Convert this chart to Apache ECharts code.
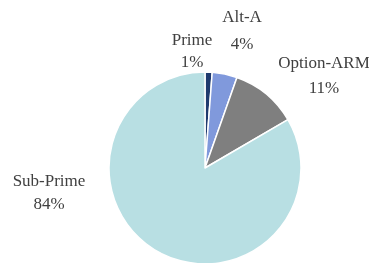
<!DOCTYPE html>
<html>
<head>
<meta charset="utf-8">
<script src="https://cdn.jsdelivr.net/npm/echarts@6/dist/echarts.min.js"></script>
<style>
  html, body { margin: 0; padding: 0; background: #fff; }
  #chart { width: 369px; height: 263px; }
</style>
</head>
<body>
<div id="chart"></div>
<script>
// loan categories, clockwise from 12 o'clock
const categories = ['Prime', 'Alt-A', 'Option-ARM', 'Sub-Prime'];
const shares = [1.2, 4.2, 11.2, 83.4];
const shareLabels = ['1%', '4%', '11%', '84%'];
const colors = ['#1f3a6e', '#8099dc', '#7f7f7f', '#b8dfe3'];

const chart = echarts.init(document.getElementById('chart'));

// where each two-line label sits (centre of the text block) and its line gap
const labelSpots = [[192, 52], [242, 31], [324, 76], [49, 193]];
const labelGaps = [22, 27, 25, 23];

chart.setOption({
  animation: false,
  series: [
    {
      type: 'pie',
      center: [205, 168],
      radius: 96,
      startAngle: 90,
      clockwise: true,
      itemStyle: { borderColor: '#fff', borderWidth: 1.5 },
      label: {
        show: true,
        position: 'outside',
        overflow: 'none',
        fontFamily: 'Liberation Serif',
        fontSize: 17,
        color: '#404040',
        formatter: p => p.name + '\n' + shareLabels[p.dataIndex]
      },
      labelLine: { show: false },
      labelLayout: p => ({
        x: labelSpots[p.dataIndex][0],
        y: labelSpots[p.dataIndex][1],
        align: 'center',
        verticalAlign: 'middle'
      }),
      emphasis: { disabled: true },
      data: categories.map((c, i) => ({
        name: c,
        value: shares[i],
        itemStyle: { color: colors[i] },
        label: { lineHeight: labelGaps[i] }
      }))
    }
  ]
});
</script>
</body>
</html>
